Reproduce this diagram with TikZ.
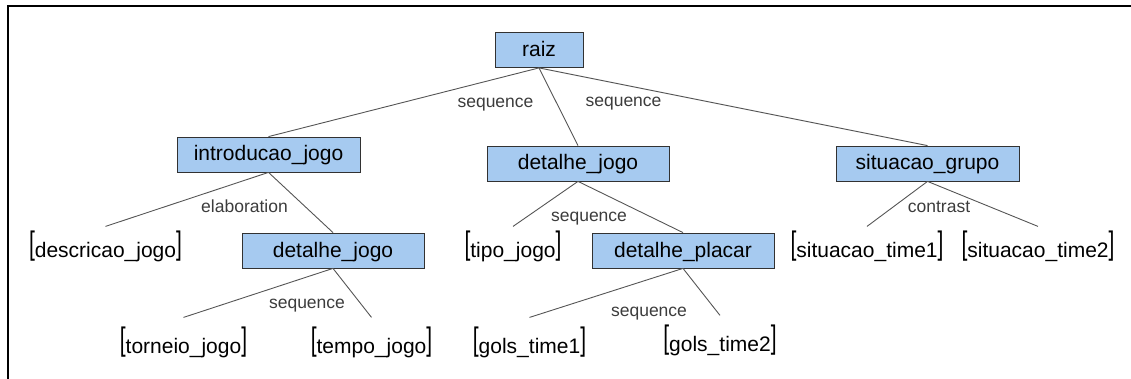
\documentclass[tikz,border=0pt]{standalone}
\usepackage{fontspec}
\setmainfont{Liberation Sans}
\definecolor{boxfill}{RGB}{166,202,240}
\definecolor{boxline}{RGB}{50,50,50}
\definecolor{edgecol}{RGB}{85,85,85}
\definecolor{relcol}{RGB}{60,60,60}
% tall brackets around leaf names
\newcommand\lbr{\raisebox{3pt}{\scalebox{1}[1.55]{[}}}
\newcommand\rbr{\raisebox{3pt}{\scalebox{1}[1.55]{]}}}
\tikzset{
  span/.style={draw=boxline, line width=0.8pt, fill=boxfill, inner sep=0pt,
    minimum height=35pt, text height=16pt, text depth=3pt,
    font=\fontsize{21}{25}\selectfont},
  leaf/.style={inner sep=0pt, anchor=base, font=\fontsize{21}{25}\selectfont},
  leafup/.style={leaf, outer ysep=4pt},
  leaflow/.style={leaf, outer ysep=9pt},
  edge/.style={draw=edgecol, line width=0.9pt},
  rel/.style={anchor=base, inner sep=0pt, text=relcol, font=\fontsize{17.5}{20}\selectfont},
}
\begin{document}
\begin{tikzpicture}[x=1pt, y=-1pt]
\useasboundingbox (0,0) rectangle (1131,379);
% frame
\draw[line width=2pt] (7.7,379) -- (7.7,6.3) -- (1131,6.3);

% spans
\node[span, minimum width=88pt]  (raiz)    at (539,50)    {raiz};
\node[span, minimum width=183pt] (intro)   at (268.5,154.5) {introducao\_jogo};
\node[span, minimum width=182pt] (djogo)   at (578,163.5) {detalhe\_jogo};
\node[span, minimum width=183pt] (sitg)    at (927.5,163.5) {situacao\_grupo};
\node[span, minimum width=182pt] (djogoB)  at (333,250.5) {detalhe\_jogo};
\node[span, minimum width=182pt] (dplacar) at (683,250.5) {detalhe\_placar};

% leaves
\node[leafup]  (desc)  at (105.5,257) {\lbr descricao\_jogo\rbr};
\node[leafup]  (tipo)  at (513,257)   {\lbr tipo\_jogo\rbr};
\node[leafup]  (sit1)  at (867,257)   {\lbr situacao\_time1\rbr};
\node[leafup]  (sit2)  at (1038,257)  {\lbr situacao\_time2\rbr};
\node[leaflow] (torn)  at (183.5,353) {\lbr torneio\_jogo\rbr};
\node[leaflow] (tempo) at (371.5,353) {\lbr tempo\_jogo\rbr};
\node[leaflow] (gols1) at (529.5,353) {\lbr gols\_time1\rbr};
\node[leaflow] (gols2) at (720,351)   {\lbr gols\_time2\rbr};

% connectors
\draw[edge] (raiz.south) -- (intro.north);
\draw[edge] (raiz.south) -- (djogo.north);
\draw[edge] (raiz.south) -- (sitg.north);
\draw[edge] (intro.south) -- (desc.north);
\draw[edge] (intro.south) -- (djogoB.north);
\draw[edge] (djogo.south) -- (tipo.north);
\draw[edge] (djogo.south) -- (dplacar.north);
\draw[edge] (sitg.south) -- (sit1.north);
\draw[edge] (sitg.south) -- (sit2.north);
\draw[edge] (djogoB.south) -- (torn.north);
\draw[edge] (djogoB.south) -- (tempo.north);
\draw[edge] (dplacar.south) -- (gols1.north);
\draw[edge] (dplacar.south) -- (gols2.north);

% relation labels
\node[rel] (r1) at (495.5,107.5) {sequence};
\node[rel] (r2) at (623.5,107)   {sequence};
\node[rel] (r3) at (244.5,213)   {elaboration};
\node[rel] (r4) at (589,221.5)   {sequence};
\node[rel] (r5) at (939,213)     {contrast};
\node[rel] (r6) at (307,308)     {sequence};
\node[rel] (r7) at (649,316.5)   {sequence};
\end{tikzpicture}
\end{document}
